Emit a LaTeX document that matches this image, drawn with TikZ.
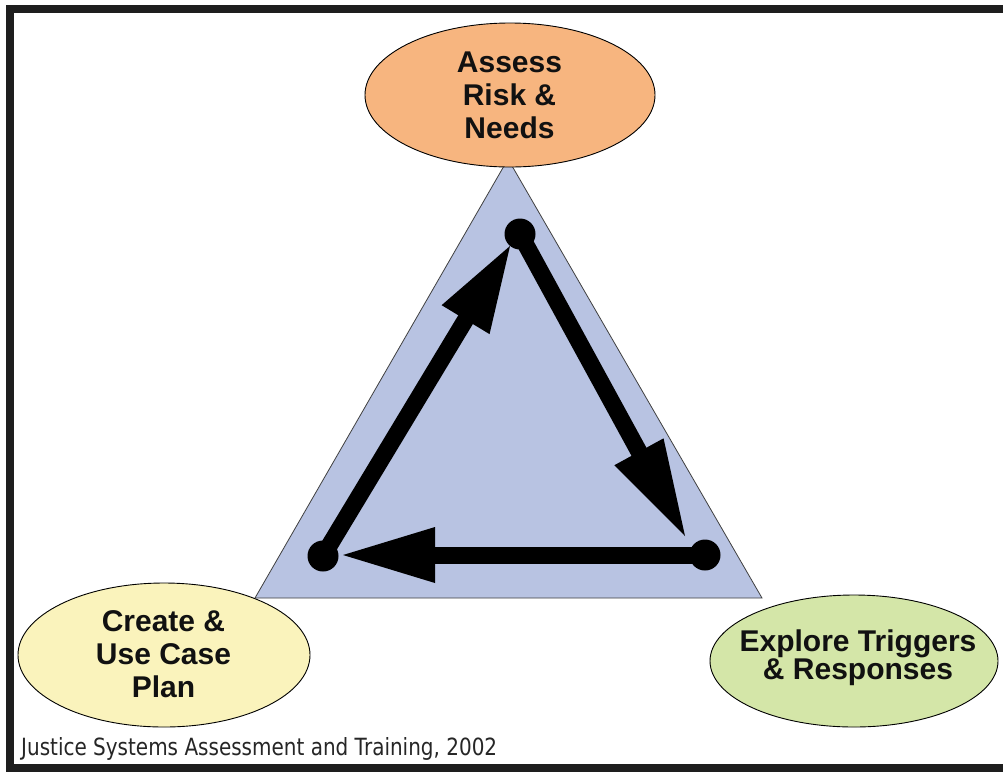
\documentclass[tikz,border=0pt]{standalone}
\usepackage{fontspec}
\setmainfont{Liberation Sans}
\newfontfamily\capfont{DejaVu Sans}
\usetikzlibrary{shapes.geometric,calc}
\definecolor{trifill}{RGB}{184,195,226}
\definecolor{orangefill}{RGB}{247,181,127}
\definecolor{yellowfill}{RGB}{250,243,188}
\definecolor{greenfill}{RGB}{212,230,168}
\definecolor{framecol}{RGB}{30,30,30}
\definecolor{txtcol}{RGB}{17,17,17}
\begin{document}
\begin{tikzpicture}[x=1pt,y=-1pt,
  ell/.style={draw=black,line width=0.9pt,ellipse,inner sep=0pt},
  lbl/.style={font=\bfseries\fontsize{30}{33}\selectfont,text=txtcol,align=center,inner sep=0pt},
  dot/.style={circle,fill=black,inner sep=0pt,minimum size=31pt},
  bar/.style={line width=17pt,black}]
\useasboundingbox (0,0) rectangle (1003,772);
\fill[white] (0,0) rectangle (1003,772);
% frame (no right side)
\draw[framecol,line width=7.5pt,line join=miter] (1003,9) -- (10,9) -- (10,768) -- (1003,768);
% triangle
\coordinate (apex) at (508,159);
\coordinate (baseL) at (255,598);
\coordinate (baseR) at (762,598);
\filldraw[fill=trifill,draw=black!75,line width=0.8pt] (apex) -- (baseL) -- (baseR) -- cycle;
% ellipses
\node[ell,fill=orangefill,minimum width=290pt,minimum height=144pt] (risk) at (510,95) {};
\node[ell,fill=yellowfill,minimum width=292pt,minimum height=144pt] (plan) at (164,655) {};
\node[ell,fill=greenfill,minimum width=288pt,minimum height=132pt] (trig) at (854,661) {};
\node[lbl] (risktxt) at (509.5,95.5) {Assess\\Risk \&\\Needs};
\node[lbl] (plantxt) at (163.5,654.5) {Create \&\\Use Case\\Plan};
\node[lbl,font=\bfseries\fontsize{30}{28}\selectfont] (trigtxt) at (858,657.5) {Explore Triggers\\\& Responses};
% dots
\node[dot] (T) at (520,234) {};
\node[dot] (BL) at (323,556) {};
\node[dot] (BR) at (705,555) {};
% arrow tips
\coordinate (tipL) at (510,246);
\coordinate (tipR) at (685,536);
\coordinate (tipB) at (343,555);
% bars
\draw[bar] (BL.center) -- ($(tipL)!40pt!(BL.center)$);
\draw[bar] (T.center) -- ($(tipR)!40pt!(T.center)$);
\draw[bar] (BR.center) -- ($(tipB)!40pt!(BR.center)$);
% arrowheads
\coordinate (mL) at ($(tipL)!86pt!(BL.center)$);
\coordinate (mR) at ($(tipR)!96pt!(T.center)$);
\coordinate (mB) at ($(tipB)!92pt!(BR.center)$);
\fill[black] (tipL) -- ($(mL)!28pt!90:(tipL)$) -- ($(mL)!28pt!-90:(tipL)$) -- cycle;
\fill[black] (tipR) -- ($(mR)!28pt!90:(tipR)$) -- ($(mR)!28pt!-90:(tipR)$) -- cycle;
\fill[black] (tipB) -- ($(mB)!28pt!90:(tipB)$) -- ($(mB)!28pt!-90:(tipB)$) -- cycle;
% caption
\node[anchor=base west,inner sep=0pt,text=black!85] (cap) at (21,755) {\resizebox{476pt}{18pt}{\capfont Justice Systems Assessment and Training, 2002}};
\end{tikzpicture}
\end{document}
